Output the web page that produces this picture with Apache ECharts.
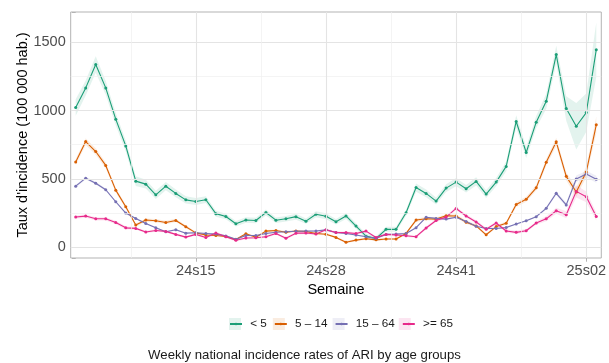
<!DOCTYPE html>
<html>
<head>
<meta charset="utf-8">
<script src="https://cdn.jsdelivr.net/npm/echarts@6/dist/echarts.min.js"></script>
<style>
  html, body { margin: 0; padding: 0; background: #ffffff; }
  #chart { width: 609px; height: 363px; }
</style>
</head>
<body>
<div id="chart"></div>
<script>
// ISO weeks covered by the surveillance period
const weeks = [
  '24s03','24s04','24s05','24s06','24s07','24s08','24s09','24s10','24s11','24s12',
  '24s13','24s14','24s15','24s16','24s17','24s18','24s19','24s20','24s21','24s22',
  '24s23','24s24','24s25','24s26','24s27','24s28','24s29','24s30','24s31','24s32',
  '24s33','24s34','24s35','24s36','24s37','24s38','24s39','24s40','24s41','24s42',
  '24s43','24s44','24s45','24s46','24s47','24s48','24s49','24s50','24s51','24s52',
  '25s01','25s02','25s03'
];

const ageGroups = ['< 5', '5 \u2013 14', '15 \u2013 64', '>= 65'];

// Weekly incidence rate per 100 000 inhabitants
const rateUnder5 = [
  1022, 1166, 1337, 1166, 937, 741, 483, 461, 383, 446,
  393, 346, 334, 347, 245, 224, 171, 198, 195, 253,
  197, 208, 223, 190, 240, 226, 186, 228, 154, 80,
  63, 130, 130, 252, 436, 393, 337, 432, 476, 427,
  481, 388, 476, 591, 920, 693, 915, 1068, 1410, 1015,
  885, 985, 1446
];
const rate5to14 = [
  624, 773, 700, 598, 417, 295, 161, 198, 193, 180,
  195, 149, 104, 88, 85, 78, 55, 98, 72, 117,
  121, 109, 118, 114, 99, 94, 71, 36, 51, 61,
  53, 59, 59, 100, 198, 208, 205, 229, 228, 182,
  155, 90, 150, 175, 312, 350, 434, 621, 771, 518,
  404, 550, 896
];
const rate15to64 = [
  446, 505, 468, 420, 332, 249, 210, 173, 141, 112,
  127, 102, 105, 100, 95, 82, 57, 85, 85, 100,
  109, 112, 116, 117, 118, 126, 107, 100, 88, 76,
  64, 93, 95, 100, 142, 218, 210, 205, 218, 187,
  153, 136, 136, 143, 169, 193, 223, 284, 394, 309,
  499, 535, 497
];
const rate65plus = [
  220, 227, 207, 207, 180, 141, 137, 110, 122, 115,
  93, 73, 93, 70, 103, 76, 50, 67, 68, 76,
  100, 65, 102, 103, 96, 127, 107, 106, 100, 117,
  70, 93, 88, 83, 76, 140, 195, 220, 283, 228,
  184, 130, 176, 118, 108, 120, 176, 207, 266, 237,
  408, 368, 224
];

// Half-width of the 95% confidence interval around each rate
const ciUnder5 = [
  60, 55, 60, 50, 45, 40, 35, 32, 30, 30,
  28, 26, 25, 25, 22, 20, 20, 20, 20, 22,
  20, 20, 22, 20, 22, 22, 20, 22, 20, 18,
  16, 18, 18, 22, 30, 28, 26, 28, 30, 28,
  30, 28, 30, 35, 45, 40, 45, 55, 65, 90,
  170, 140, 200
];
const ci5to14 = [
  22, 25, 24, 22, 18, 15, 12, 12, 12, 12,
  12, 10, 9, 8, 8, 8, 8, 8, 8, 8,
  8, 8, 8, 8, 8, 8, 8, 8, 8, 8,
  8, 8, 8, 8, 12, 12, 12, 12, 12, 12,
  10, 9, 10, 12, 18, 18, 20, 25, 30, 30,
  35, 40, 60
];
const ci15to64 = [
  10, 10, 10, 9, 8, 7, 6, 6, 6, 6,
  6, 6, 6, 6, 6, 6, 6, 6, 6, 6,
  6, 6, 6, 6, 6, 6, 6, 6, 6, 6,
  6, 6, 6, 6, 6, 6, 6, 6, 6, 6,
  6, 6, 6, 6, 6, 6, 6, 10, 15, 15,
  25, 25, 25
];
const ci65plus = [
  12, 12, 12, 12, 12, 12, 9, 9, 9, 9,
  9, 9, 9, 9, 9, 9, 9, 9, 9, 9,
  9, 9, 9, 9, 9, 9, 9, 9, 9, 9,
  9, 9, 9, 9, 9, 12, 12, 12, 12, 12,
  12, 12, 12, 12, 12, 12, 12, 18, 22, 25,
  45, 40, 30
];

const xTickLabels = ['24s15', '24s28', '24s41', '25s02'];
const yTicks = [0, 500, 1000, 1500];
const yMinorTicks = [250, 750, 1250];

const palette = ['#1B9E77', '#D95F02', '#7570B3', '#E7298A'];
const rates = [rateUnder5, rate5to14, rate15to64, rate65plus];
const halfWidths = [ciUnder5, ci5to14, ci15to64, ci65plus];

const FONT = 'Liberation Sans, Arial, Helvetica, sans-serif';

function hexToRgba(hex, a) {
  const n = parseInt(hex.slice(1), 16);
  return 'rgba(' + ((n >> 16) & 255) + ',' + ((n >> 8) & 255) + ',' + (n & 255) + ',' + a + ')';
}

const tickIdx = xTickLabels.map(l => weeks.indexOf(l));
const showTick = idx => tickIdx.indexOf(idx) !== -1;

// Panel grid lines (major at labelled breaks, minor halfway between)
const gridLineData = [];
yTicks.forEach(v => gridLineData.push({ yAxis: v, lineStyle: { color: '#e4e4e4', width: 1.1, type: 'solid' } }));
yMinorTicks.forEach(v => gridLineData.push({ yAxis: v, lineStyle: { color: '#efefef', width: 0.7, type: 'solid' } }));
tickIdx.forEach(i => gridLineData.push({ xAxis: i, lineStyle: { color: '#e4e4e4', width: 1.1, type: 'solid' } }));
tickIdx.forEach(i => gridLineData.push({ xAxis: i - 6.5, lineStyle: { color: '#efefef', width: 0.7, type: 'solid' } }));

const series = [{
  type: 'line',
  name: 'grille',
  xAxisIndex: 0,
  data: [[-10, -1000]],
  symbol: 'none',
  lineStyle: { opacity: 0 },
  silent: true,
  z: 1,
  markLine: {
    silent: true,
    symbol: ['none', 'none'],
    label: { show: false },
    emphasis: { disabled: true },
    animation: false,
    data: gridLineData
  }
}];

// Confidence ribbons (drawn first, underneath all lines)
ageGroups.forEach((g, k) => {
  const lower = rates[k].map((v, i) => Math.max(0, v - halfWidths[k][i]));
  const span = rates[k].map((v, i) => (v + halfWidths[k][i]) - lower[i]);
  series.push({
    type: 'line', name: g + ' bas', xAxisIndex: 1, stack: 'ic' + k,
    data: lower, symbol: 'none', lineStyle: { opacity: 0 }, silent: true, z: 2
  });
  series.push({
    type: 'line', name: g + ' IC', xAxisIndex: 1, stack: 'ic' + k,
    data: span, symbol: 'none', lineStyle: { opacity: 0 },
    areaStyle: { color: hexToRgba(palette[k], 0.12), opacity: 1 },
    silent: true, z: 2
  });
});

// Rate lines with weekly points
ageGroups.forEach((g, k) => {
  series.push({
    type: 'line', name: g, xAxisIndex: 1,
    data: rates[k],
    symbol: 'circle', symbolSize: 3, showAllSymbol: true,
    itemStyle: { color: palette[k] },
    lineStyle: { color: palette[k], width: 1.1 },
    z: 3
  });
});

const legendCommon = {
  orient: 'horizontal',
  left: 229,
  top: 318,
  padding: 0,
  itemGap: 7,
  itemWidth: 12,
  selectedMode: false,
  formatter: name => ' ' + name,
  textStyle: { fontFamily: FONT, fontSize: 11.7, color: '#1a1a1a' }
};

const option = {
  animation: false,
  backgroundColor: '#ffffff',
  title: {
    text: 'Weekly national incidence rates of ARI by age groups',
    left: 'center',
    top: 349,
    padding: 0,
    textStyle: { fontFamily: FONT, fontSize: 13.2, fontWeight: 'normal', color: '#1a1a1a' }
  },
  legend: [
    Object.assign({}, legendCommon, {
      itemHeight: 12,
      data: ageGroups.map((g, k) => ({ name: g, icon: 'rect', itemStyle: { color: hexToRgba(palette[k], 0.12), borderWidth: 0 } })),
      textStyle: { fontFamily: FONT, fontSize: 11.7, color: 'rgba(0,0,0,0)' }
    }),
    Object.assign({}, legendCommon, {
      itemHeight: 3,
      data: ageGroups.map(g => ({ name: g }))
    })
  ],
  grid: {
    left: 70.7, right: 4.7, top: 12, bottom: 105,
    show: true, borderColor: '#b3b3b3', borderWidth: 1, backgroundColor: '#ffffff'
  },
  xAxis: [{
    type: 'value', min: -0.5, max: 52.5, show: false
  }, {
    type: 'category',
    data: weeks,
    boundaryGap: true,
    position: 'bottom',
    name: 'Semaine',
    nameLocation: 'middle',
    nameGap: 24,
    nameMoveOverlap: false,
    nameTextStyle: { fontFamily: FONT, fontSize: 14.5, color: '#000000' },
    axisLine: { show: false },
    axisTick: { show: true, alignWithLabel: true, interval: idx => showTick(idx), length: 3.7, lineStyle: { color: '#b3b3b3' } },
    axisLabel: { interval: idx => showTick(idx), fontFamily: FONT, fontSize: 14.5, color: '#4d4d4d', margin: 5 },
    splitLine: { show: false }
  }],
  yAxis: {
    type: 'value',
    min: -80, max: 1722,
    splitNumber: 4,
    name: "Taux d'incidence (100 000 hab.)",
    nameLocation: 'middle',
    nameGap: 40,
    nameMoveOverlap: false,
    nameTextStyle: { fontFamily: FONT, fontSize: 14.5, color: '#000000' },
    axisLine: { show: false },
    axisTick: { show: true, length: 3.7, lineStyle: { color: '#b3b3b3' } },
    axisLabel: {
      fontFamily: FONT, fontSize: 14.5, color: '#4d4d4d', margin: 5,
      formatter: v => (yTicks.indexOf(v) !== -1 ? String(v) : '')
    },
    splitLine: { show: false }
  },
  series: series
};

const chart = echarts.init(document.getElementById('chart'), null, { renderer: 'canvas' });
chart.setOption(option);
</script>
</body>
</html>
